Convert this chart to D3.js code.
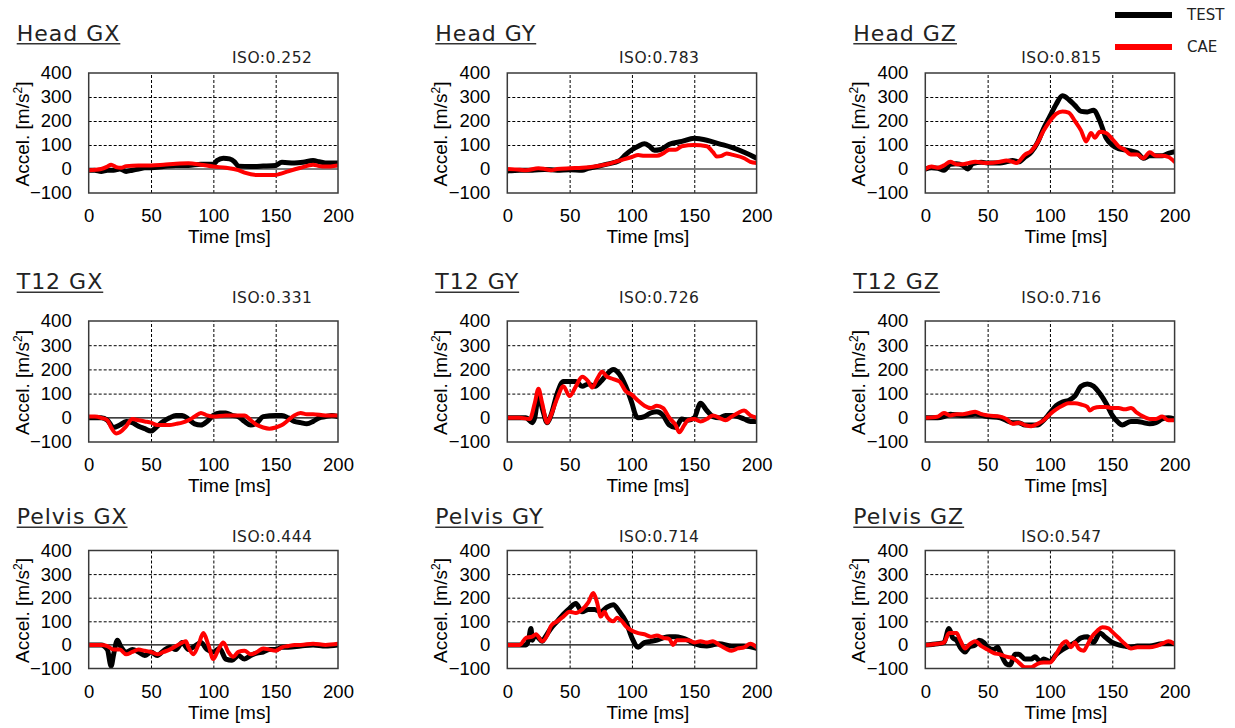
<!DOCTYPE html>
<html>
<head>
<meta charset="utf-8">
<script src="https://cdn.jsdelivr.net/npm/d3@7"></script>
<style>
  body { margin: 0; background: #fff; }
  svg { display: block; }
  .tick text { font-family: "Liberation Sans", Arial, sans-serif; font-size: 18.5px; fill: #000; }
  .axis-title { font-family: "Liberation Sans", Arial, sans-serif; font-size: 19px; fill: #000; }
  .panel-title { font-family: "DejaVu Sans", sans-serif; font-size: 22px; letter-spacing: 1px; fill: #222; }
  .iso-label { font-family: "DejaVu Sans", sans-serif; font-size: 15.5px; letter-spacing: 0.5px; fill: #222; }
  .legend-label { font-family: "DejaVu Sans", sans-serif; font-size: 15px; fill: #222; }
</style>
</head>
<body>
<svg id="chart" width="1235" height="728"></svg>
<script>
// ---- data: acceleration traces [time ms, accel m/s^2] ----
const headGX_test = [[0,-5],[5,-5],[10,-10],[15,-5],[20,-5],[25,0],[30,-10],[35,-5],[40,0],[45,5],[50,5],[60,10],[70,15],[80,15],[90,20],[100,20],[103,35],[108,45],[113,42],[117,30],[120,12],[130,10],[140,12],[150,15],[155,28],[165,25],[172,28],[180,35],[185,30],[190,25],[200,25]];
const headGX_cae  = [[0,-5],[10,0],[15,10],[18,18],[22,8],[26,5],[30,12],[40,15],[50,15],[60,18],[70,22],[80,24],[90,18],[100,10],[110,5],[120,-5],[125,-15],[135,-25],[150,-25],[155,-18],[160,-10],[170,5],[180,18],[185,12],[190,10],[200,15]];

const headGY_test = [[0,-8],[10,-5],[20,-5],[30,-2],[40,-5],[50,-3],[60,-5],[65,3],[70,8],[80,20],[90,35],[95,60],[100,80],[105,95],[110,105],[114,95],[118,78],[122,80],[126,90],[130,103],[140,115],[150,128],[155,125],[160,120],[170,105],[180,90],[190,70],[200,45]];
const headGY_cae  = [[0,0],[10,-3],[15,-5],[25,3],[30,0],[35,-5],[40,0],[50,3],[60,5],[70,10],[80,20],[90,35],[100,50],[105,58],[110,55],[120,55],[125,65],[130,80],[135,80],[140,95],[150,100],[160,95],[165,70],[168,52],[172,55],[176,65],[180,60],[190,45],[195,30],[200,25]];

const headGZ_test = [[0,0],[5,5],[10,3],[15,-5],[20,20],[25,22],[30,15],[34,0],[38,22],[45,28],[50,25],[60,25],[65,30],[70,35],[75,30],[80,50],[85,70],[90,110],[95,170],[100,220],[105,270],[110,305],[115,290],[120,265],[125,240],[130,238],[135,245],[140,200],[145,130],[150,100],[155,85],[160,80],[165,75],[170,68],[175,45],[180,55],[190,55],[195,65],[200,72]];
const headGZ_cae  = [[0,0],[5,10],[10,5],[15,15],[20,30],[25,20],[30,20],[35,25],[40,30],[50,25],[60,30],[65,35],[70,30],[73,25],[80,60],[85,75],[90,110],[95,160],[100,200],[105,230],[110,240],[115,235],[120,200],[125,160],[129,115],[133,150],[136,130],[140,155],[145,150],[150,125],[155,95],[160,80],[165,60],[170,60],[175,45],[180,70],[185,55],[190,55],[195,50],[200,30]];

const t12GX_test = [[0,0],[10,0],[15,-10],[20,-40],[25,-30],[30,-15],[35,-20],[40,-35],[45,-45],[50,-55],[55,-35],[60,-15],[65,0],[70,10],[75,10],[80,-5],[85,-25],[90,-30],[95,-15],[100,10],[105,20],[110,20],[115,10],[120,5],[125,-15],[130,-30],[135,-20],[140,5],[150,10],[155,10],[160,0],[165,-15],[170,-20],[175,-25],[180,-15],[185,0],[190,5],[195,10],[200,5]];
const t12GX_cae  = [[0,5],[5,5],[10,0],[15,-10],[18,-40],[22,-65],[25,-60],[30,-35],[35,-5],[40,-10],[45,-15],[50,-20],[55,-30],[65,-30],[70,-25],[75,-20],[80,-10],[85,5],[90,20],[95,10],[100,5],[110,10],[125,10],[130,-10],[135,-30],[140,-40],[145,-45],[150,-40],[155,-30],[160,-10],[165,10],[170,20],[175,15],[180,15],[190,10],[200,10]];

const t12GY_test = [[0,0],[15,0],[20,-20],[22,0],[25,90],[28,40],[32,-20],[35,10],[40,100],[45,150],[50,150],[55,150],[60,130],[65,140],[70,130],[75,150],[80,180],[85,200],[90,180],[95,130],[100,60],[103,10],[105,0],[110,5],[115,20],[120,25],[125,10],[130,-30],[135,-40],[140,-5],[145,-10],[150,0],[155,60],[160,30],[165,5],[170,0],[175,10],[180,10],[185,5],[190,-5],[195,-15],[200,-15]];
const t12GY_cae  = [[0,0],[10,0],[18,-5],[22,60],[25,120],[28,60],[32,-20],[35,10],[40,80],[45,130],[50,90],[55,130],[60,170],[65,150],[68,125],[72,160],[76,190],[80,170],[85,160],[90,150],[95,110],[100,95],[105,70],[110,50],[115,40],[120,50],[125,40],[130,0],[135,-30],[138,-60],[142,-30],[145,-10],[150,-5],[155,-15],[160,-5],[165,10],[170,0],[175,-10],[180,5],[185,20],[190,30],[195,10],[200,0]];

const t12GZ_test = [[0,0],[10,0],[15,5],[20,15],[30,10],[40,15],[50,5],[60,0],[70,-20],[75,-20],[80,-30],[90,-30],[95,-10],[100,20],[105,50],[110,65],[115,72],[120,90],[125,130],[130,140],[135,130],[140,100],[145,60],[150,10],[155,-20],[158,-30],[165,-15],[170,-15],[175,-20],[180,-25],[185,-20],[190,-5],[195,0],[200,-5]];
const t12GZ_cae  = [[0,0],[10,5],[15,20],[20,10],[25,15],[30,15],[35,20],[40,25],[45,15],[50,10],[60,5],[65,-5],[70,-25],[75,-20],[80,-30],[85,-35],[90,-25],[95,-10],[100,15],[105,35],[110,50],[115,60],[120,60],[125,55],[130,45],[132,30],[135,40],[140,45],[145,45],[150,40],[155,40],[160,35],[165,40],[170,20],[175,5],[180,-5],[185,-5],[190,5],[195,-10],[200,-10]];

const pelvisGX_test = [[0,0],[10,0],[15,-20],[18,-90],[20,-40],[23,20],[26,-10],[30,-30],[35,-20],[40,-30],[45,-45],[50,-30],[55,-45],[60,-25],[65,-10],[70,-20],[75,10],[80,-20],[85,-5],[90,10],[95,-20],[100,-30],[105,-15],[110,-60],[115,-65],[120,-45],[125,-60],[130,-45],[135,-35],[140,-30],[145,-20],[150,-20],[155,-10],[160,-10],[170,-5],[180,0],[190,-5],[200,0]];
const pelvisGX_cae  = [[0,0],[10,0],[15,-5],[20,-20],[25,-20],[30,-40],[35,-30],[40,-20],[45,-25],[50,-30],[55,-40],[60,-30],[65,-20],[70,-5],[75,10],[78,15],[80,-10],[84,-40],[88,0],[92,50],[96,0],[100,-60],[104,-20],[108,10],[112,-30],[116,-50],[120,-30],[125,-25],[130,-40],[135,-30],[140,-15],[145,-20],[150,-25],[155,-10],[160,-5],[165,0],[170,0],[180,5],[190,0],[200,5]];

const pelvisGY_test = [[0,0],[10,0],[15,0],[17,20],[19,70],[20,20],[22,40],[25,30],[28,15],[30,30],[35,70],[40,100],[45,130],[50,155],[55,175],[60,140],[65,150],[70,150],[75,140],[80,160],[85,170],[90,140],[95,100],[100,30],[105,-10],[110,10],[115,15],[120,20],[125,30],[130,35],[135,35],[140,30],[145,20],[150,5],[160,-5],[165,0],[170,5],[180,-5],[190,-5],[200,-15]];
const pelvisGY_cae  = [[0,0],[10,0],[15,30],[20,35],[23,45],[28,15],[32,40],[35,80],[40,100],[45,120],[50,140],[55,135],[60,150],[65,180],[69,220],[72,180],[75,120],[78,140],[80,120],[85,100],[88,115],[92,100],[95,80],[100,60],[105,50],[110,45],[115,35],[120,40],[125,30],[130,25],[133,0],[136,20],[145,20],[150,10],[155,15],[160,10],[165,15],[170,0],[175,-15],[180,-25],[185,-15],[190,-10],[195,5],[200,-10]];

const pelvisGZ_test = [[0,0],[10,5],[15,10],[19,70],[22,30],[25,20],[28,-10],[32,-30],[35,-10],[40,0],[43,20],[47,10],[50,-10],[55,-20],[58,-10],[60,-30],[65,-80],[68,-85],[72,-40],[75,-40],[80,-60],[85,-60],[88,-50],[92,-70],[95,-60],[100,-70],[105,-40],[110,-20],[115,-5],[120,10],[125,30],[130,35],[135,10],[140,50],[145,30],[150,10],[155,0],[160,-5],[165,-10],[170,-5],[180,-5],[190,5],[200,5]];
const pelvisGZ_cae  = [[0,0],[10,5],[15,10],[19,50],[25,50],[28,20],[32,-15],[35,0],[40,15],[45,-5],[50,-20],[55,-35],[60,-40],[65,-50],[70,-55],[75,-75],[80,-95],[85,-95],[90,-80],[95,-75],[100,-75],[105,-40],[110,5],[113,15],[117,-10],[120,10],[123,-15],[127,-25],[130,0],[133,30],[138,60],[142,75],[147,70],[150,55],[155,30],[160,5],[165,-15],[170,-10],[180,-10],[185,-5],[190,5],[195,15],[200,5]];

const panelTitles = ["Head GX", "Head GY", "Head GZ", "T12 GX", "T12 GY", "T12 GZ", "Pelvis GX", "Pelvis GY", "Pelvis GZ"];
const isoScores   = [0.252, 0.783, 0.815, 0.331, 0.726, 0.716, 0.444, 0.714, 0.547];
const testSeries  = [headGX_test, headGY_test, headGZ_test, t12GX_test, t12GY_test, t12GZ_test, pelvisGX_test, pelvisGY_test, pelvisGZ_test];
const caeSeries   = [headGX_cae, headGY_cae, headGZ_cae, t12GX_cae, t12GY_cae, t12GZ_cae, pelvisGX_cae, pelvisGY_cae, pelvisGZ_cae];
const xTicks = [0, 50, 100, 150, 200];
const yTicks = [-100, 0, 100, 200, 300, 400];
const seriesNames = ["TEST", "CAE"];

// ---- layout ----
const colLeft = [88.7, 507.3, 925.3];
const plotW = 249.3;
const rowTop = [73, 321, 550.5];
const rowBottom = [193, 442, 668.5];
const titleBase = [40.7, 289.3, 524.3];
const isoBase = [62.5, 302.5, 541.7];
const isoLeft = [232, 619, 1021.3];
const seriesColor = { TEST: "#000000", CAE: "#ff0000" };
const seriesWidth = { TEST: 5, CAE: 4 };

const svg = d3.select("#chart");

panelTitles.forEach((title, i) => {
  const c = i % 3, r = Math.floor(i / 3);
  const x0 = colLeft[c], x1 = colLeft[c] + plotW;
  const y0 = rowTop[r], y1 = rowBottom[r];
  const x = d3.scaleLinear().domain([0, 200]).range([x0, x1]);
  const y = d3.scaleLinear().domain([-100, 400]).range([y1, y0]);
  const g = svg.append("g");

  // dashed grid
  g.append("g")
    .attr("transform", `translate(0,${y1})`)
    .call(d3.axisBottom(x).tickValues(xTicks.slice(1, -1)).tickSize(-(y1 - y0)).tickFormat(""))
    .call(s => s.select(".domain").remove())
    .selectAll("line").attr("stroke", "#000").attr("stroke-width", 1).attr("stroke-dasharray", "3,2");
  g.append("g")
    .attr("transform", `translate(${x0},0)`)
    .call(d3.axisLeft(y).tickValues(yTicks.filter(v => v > 0 && v < 400)).tickSize(-(x1 - x0)).tickFormat(""))
    .call(s => s.select(".domain").remove())
    .selectAll("line").attr("stroke", "#000").attr("stroke-width", 1).attr("stroke-dasharray", "3,2");

  // zero line
  g.append("line")
    .attr("x1", x0).attr("x2", x1).attr("y1", y(0)).attr("y2", y(0))
    .attr("stroke", "#000").attr("stroke-width", 1.2);

  // traces
  const clipId = "clip" + i;
  g.append("clipPath").attr("id", clipId)
    .append("rect").attr("x", x0).attr("y", y0).attr("width", x1 - x0).attr("height", y1 - y0);
  const line = d3.line().x(d => x(d[0])).y(d => y(d[1])).curve(d3.curveMonotoneX);
  [["TEST", testSeries[i]], ["CAE", caeSeries[i]]].forEach(([name, data]) => {
    g.append("path")
      .datum(data)
      .attr("clip-path", `url(#${clipId})`)
      .attr("d", line)
      .attr("fill", "none")
      .attr("stroke", seriesColor[name])
      .attr("stroke-width", seriesWidth[name])
      .attr("stroke-linejoin", "round")
      .attr("stroke-linecap", "round");
  });

  // frame
  g.append("rect")
    .attr("x", x0).attr("y", y0).attr("width", x1 - x0).attr("height", y1 - y0)
    .attr("fill", "none").attr("stroke", "#3a3a3a").attr("stroke-width", 1.5);

  // tick labels
  g.append("g")
    .attr("transform", `translate(0,${y1})`)
    .call(d3.axisBottom(x).tickValues(xTicks).tickSize(0).tickPadding(16))
    .call(s => s.select(".domain").remove());
  g.append("g")
    .attr("transform", `translate(${x0},0)`)
    .call(d3.axisLeft(y).tickValues(yTicks).tickSize(0).tickPadding(17))
    .call(s => s.select(".domain").remove());

  // axis titles
  g.append("text").attr("class", "axis-title")
    .attr("x", (x0 + x1) / 2 + 16).attr("y", y1 + 50)
    .attr("text-anchor", "middle").text("Time [ms]");
  const yt = g.append("text").attr("class", "axis-title")
    .attr("transform", `translate(${x0 - 60},${(y0 + y1) / 2 + 1}) rotate(-90)`)
    .attr("text-anchor", "middle");
  yt.append("tspan").text("Accel. [m/s");
  yt.append("tspan").attr("baseline-shift", "super").attr("font-size", "12px").text("2");
  yt.append("tspan").text("]");

  // panel title with underline
  const tt = g.append("text").attr("class", "panel-title")
    .attr("x", x0 - 72).attr("y", titleBase[r]).text(title);
  const tw = tt.node().getComputedTextLength();
  g.append("line")
    .attr("x1", x0 - 72).attr("x2", x0 - 72 + tw)
    .attr("y1", titleBase[r] + 3).attr("y2", titleBase[r] + 3)
    .attr("stroke", "#333").attr("stroke-width", 1.6);

  // ISO score
  g.append("text").attr("class", "iso-label")
    .attr("x", isoLeft[c]).attr("y", isoBase[r])
    .text("ISO:" + isoScores[i].toFixed(3));
});

// legend
const legend = svg.append("g");
seriesNames.forEach((name, k) => {
  const ly = 15 + k * 32;
  legend.append("line")
    .attr("x1", 1115).attr("x2", 1172).attr("y1", ly).attr("y2", ly)
    .attr("stroke", seriesColor[name]).attr("stroke-width", 6);
  legend.append("text").attr("class", "legend-label")
    .attr("x", 1187).attr("y", ly).attr("dy", "0.36em").text(name);
});
</script>
</body>
</html>
